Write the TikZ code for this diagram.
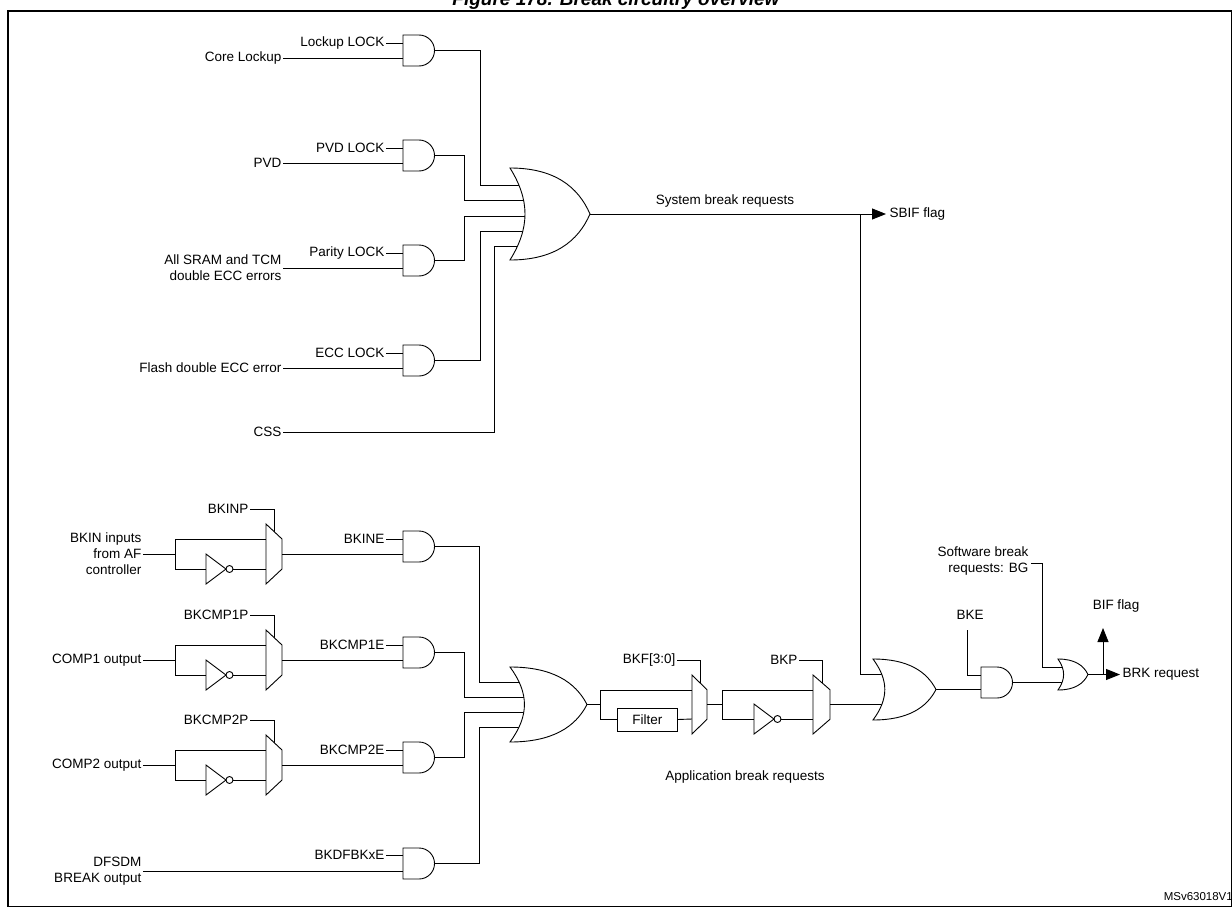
\documentclass[tikz,border=0pt]{standalone}
\usepackage{fontspec}
\setmainfont{Liberation Sans}
\usetikzlibrary{arrows.meta}
\newcommand\gAND[3]{% name, left x, top y
 \draw[gate] (#2,#3) -- ++(16,0) arc(-90:90:15.5) -- ++(-16,0) -- cycle;
 \coordinate (#1) at (#2+31.5,#3+15.5);}
\newcommand\gOR[5]{% name, x, y, w, h
 \draw[gate] (#2,#3) .. controls (#2+0.55*#4,#3) and (#2+0.85*#4,#3+0.2*#5) .. (#2+#4,#3+0.5*#5)
   .. controls (#2+0.85*#4,#3+0.8*#5) and (#2+0.55*#4,#3+#5) .. (#2,#3+#5)
   .. controls (#2+0.25*#4,#3+0.65*#5) and (#2+0.25*#4,#3+0.35*#5) .. (#2,#3) -- cycle;
 \coordinate (#1) at (#2+#4,#3+0.5*#5);}
\newcommand\gMUX[5]{% name,x,y,w,h
 \draw[gate] (#2,#3) -- (#2+#4,#3+0.25*#5) -- (#2+#4,#3+0.75*#5) -- (#2,#3+#5) -- cycle;
 \coordinate (#1) at (#2+#4,#3+0.5*#5);}
\newcommand\gINV[3]{% name, left x, center y
 \draw[gate] (#2,#3-15) -- (#2+20,#3) -- (#2,#3+15) -- cycle;
 \draw[gate] (#2+23.5,#3) circle (3.5);
 \coordinate (#1) at (#2+27,#3);}
\tikzset{gate/.style={draw=black,fill=white,line width=0.9pt},
 w/.style={line width=0.9pt},
 arr/.style={line width=0.9pt,-{Triangle[length=14pt,width=11pt]}},
 lbl/.style={font=\fontsize{13.5}{16}\selectfont,inner sep=1.5pt},
 lble/.style={lbl,anchor=east,align=right}}
\begin{document}
\begin{tikzpicture}[x=1pt,y=-1pt]
\useasboundingbox (0,0) rectangle (1232,907);
\node[font=\bfseries\itshape\fontsize{19}{22}\selectfont,anchor=base] (title) at (616,6) {Figure 178. Break circuitry overview};
\draw[line width=1.3pt] (8,11) rectangle (1231.5,906.5);
% ---- top group wires
\draw[w] (434,50.5) -- (480,50.5) -- (480,185) -- (530,185);
\draw[w] (434,155.5) -- (464,155.5) -- (464,200) -- (530,200);
\draw[w] (434,260.5) -- (464,260.5) -- (464,216) -- (530,216);
\draw[w] (434,360.5) -- (480,360.5) -- (480,231) -- (530,231);
\node[lble] (css) at (283,432) {CSS};
\draw[w] (css.east) -- (494,432) -- (494,246) -- (530,246);
\foreach \n/\t/\a/\b/\y in {l/Lockup LOCK/Core Lockup/-/35, p/PVD LOCK/PVD/-/140, e/ECC LOCK/Flash double ECC error/-/345}{
  \node[lble] (\n1) at (386,\y+8) {\t};
  \node[lble] (\n2) at (283,\y+23) {\a};
  \draw[w] (\n1.east) -- (403,\y+8);
  \draw[w] (\n2.east) -- (403,\y+23);
  \gAND{\n g}{403}{\y}
}
\node[lble] (pa1) at (386,253) {Parity LOCK};
\node[lble] (pa2) at (283,268) {All SRAM and TCM\\double ECC errors};
\draw[w] (pa1.east) -- (403,253);
\draw[w] (283,268) -- (403,268);
\gAND{pag}{403}{245}
\gOR{or1}{510}{168}{80}{92}
\draw[arr] (or1) -- (886,214);
\node[lbl,anchor=west] (sbif) at (888,214) {SBIF flag};
\node[lbl] (sbr) at (725,201) {System break requests};
\draw[w] (860,214) -- (860,674) -- (890,674);
% ---- bottom group wires
\draw[w] (434,546.5) -- (479,546.5) -- (479,682) -- (530,682);
\draw[w] (434,652.5) -- (464,652.5) -- (464,697) -- (530,697);
\draw[w] (434,757.5) -- (464,757.5) -- (464,712) -- (530,712);
\draw[w] (434,863.5) -- (479,863.5) -- (479,727) -- (530,727);
\foreach \n/\p/\e/\i/\b in {a/BKINP/BKINE/{BKIN inputs\\from AF\\controller}/509, b/BKCMP1P/BKCMP1E/COMP1 output/615, c/BKCMP2P/BKCMP2E/COMP2 output/720}{
  \node[lble] (\n in) at (143,\b+45) {\i};
  \draw[w] (\n in.east) -- (175,\b+45);
  \draw[w] (175,\b+30) -- (175,\b+60);
  \draw[w] (175,\b+30) -- (266,\b+30);
  \draw[w] (175,\b+60) -- (206,\b+60);
  \gINV{\n inv}{206}{\b+60}
  \draw[w] (\n inv) -- (266,\b+60);
  \node[lble] (\n p) at (250,\b) {\p};
  \draw[w] (\n p.east) -- (274,\b) -- (274,\b+22.5);
  \gMUX{\n mux}{266}{\b+15}{16}{60}
  \draw[w] (\n mux) -- (403,\b+45);
  \node[lble] (\n e) at (386,\b+30) {\e};
  \draw[w] (\n e.east) -- (403,\b+30);
  \gAND{\n and}{403}{\b+22}
}
\node[lble] (dfin) at (143,871) {DFSDM\\BREAK output};
\draw[w] (dfin.east) -- (403,871);
\node[lble] (dfe) at (386,855) {BKDFBKxE};
\draw[w] (dfe.east) -- (403,855);
\gAND{dfand}{403}{848}
\gOR{or2}{510}{667}{77}{75}
\draw[w] (or2) -- (600,704.5);
\draw[w] (600,690) -- (600,719);
\draw[w] (600,690) -- (692,690);
\draw[w] (600,719) -- (617,719);
\node[draw,line width=0.9pt,minimum width=60pt,minimum height=23pt,lbl,anchor=west] (filt) at (617,719.5) {Filter};
\draw[w] (filt.east) -- (692,719);
\node[lble] (bkf) at (677,660) {BKF[3:0]};
\draw[w] (bkf.east) -- (700,660) -- (700,683);
\gMUX{mf}{692}{675}{15}{59}
\draw[w] (mf) -- (722,704.5);
\draw[w] (722,690) -- (722,719);
\draw[w] (722,690) -- (813,690);
\draw[w] (722,719) -- (754,719);
\gINV{inv2}{754}{719}
\draw[w] (inv2) -- (813,719);
\node[lble] (bkp) at (799,660) {BKP};
\draw[w] (bkp.east) -- (822,660) -- (822,683);
\gMUX{mp}{813}{675}{17}{59}
\draw[w] (mp) -- (890,704.5);
\node[lbl] (abr) at (745,777) {Application break requests};
\gOR{or3}{873}{659}{63}{61}
\draw[w] (or3) -- (981,689.5);
\node[lbl] (bke) at (970,615) {BKE};
\draw[w] (967,630) -- (967,675) -- (981,675);
\gAND{and4}{981}{667}
\draw[w] (and4) -- (1066,682.5);
\node[lble] (bg) at (1030,561) {Software break\\requests: BG};
\draw[w] (1031,563) -- (1042,563) -- (1042,667) -- (1066,667);
\gOR{or5}{1058}{659}{30}{31}
\draw[arr] (or5) -- (1120,674.5);
\node[lbl,anchor=west] (brk) at (1121,674.5) {BRK request};
\draw[arr] (1103,674.5) -- (1103,628);
\node[lbl] (bif) at (1116,606) {BIF flag};
\node[font=\fontsize{11.5}{13}\selectfont,anchor=east,inner sep=0pt] (ms) at (1233,897) {MSv63018V1};
\end{tikzpicture}
\end{document}
